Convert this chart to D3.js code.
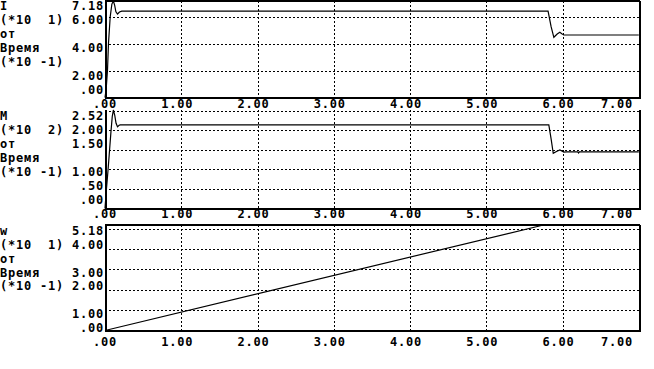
<!DOCTYPE html>
<html>
<head>
<meta charset="utf-8">
<script src="https://cdn.jsdelivr.net/npm/d3@7"></script>
<style>
  body { margin: 0; background: #fff; }
  svg { display: block; }
  text {
    font-family: "DejaVu Sans Mono", monospace;
    font-weight: bold;
    font-size: 12px;
    letter-spacing: 0.78px;
    white-space: pre;
    fill: #000;
  }
</style>
</head>
<body>
<svg width="654" height="369"></svg>
<script>
// Time axis (shared by all three plots)
const xTicks = [0, 1, 2, 3, 4, 5, 6, 7];
const xTickLabels = [".00", "1.00", "2.00", "3.00", "4.00", "5.00", "6.00", "7.00"];
const xGrid = [1, 2, 3, 4, 5, 6];

// I (current)
const tI = [0, 0.01, 0.02, 0.033, 0.046, 0.068, 0.09, 0.11, 0.127, 0.143, 0.164, 0.19, 0.22,
            5.81, 5.85, 5.886, 5.93, 5.965, 5.99, 6.017, 7.0];
const vI = [0, 0.4, 1.0, 2.06, 4.06, 5.99, 6.95, 7.18, 6.85, 6.38, 6.21, 6.36, 6.42,
            6.42, 5.27, 4.48, 4.72, 4.85, 4.75, 4.65, 4.65];
const yTicksI = [7.18, 6, 4, 2, 0];
const yTickLabelsI = ["7.18", "6.00", "4.00", "2.00", ".00"];
const yGridI = [2, 4, 6];

// M (torque)
const tM = [0, 0.016, 0.038, 0.055, 0.078, 0.095, 0.11, 0.128, 0.145, 0.164, 0.185, 0.2,
            5.82, 5.85, 5.878, 5.92, 5.965, 5.99, 6.017, 6.05, 6.2, 6.21, 6.22, 7.0];
const vM = [0, 0.43, 0.94, 1.37, 1.96, 2.35, 2.52, 2.38, 2.18, 2.09, 2.13, 2.14,
            2.14, 1.78, 1.41, 1.46, 1.50, 1.47, 1.44, 1.45, 1.45, 1.42, 1.45, 1.45];
const yTicksM = [2.52, 2, 1.5, 1, 0.5, 0];
const yTickLabelsM = ["2.52", "2.00", "1.50", "1.00", ".50", ".00"];
const yGridM = [0.5, 1, 1.5, 2, 2.5];

// w (speed)
const tW = [0, 5.75, 7.0];
const vW = [0, 5.18, 5.18];
const yTicksW = [5.18, 4, 3, 2, 1, 0];
const yTickLabelsW = ["5.18", "4.00", "3.00", "2.00", "1.00", ".00"];
const yGridW = [1, 2, 3, 4, 5];

const names = ["I", "M", "w"];
const exps = ["1", "2", "1"];
const yMax = [7.18, 2.52, 5.18];

const svg = d3.select("svg");

// layout
const X0 = 105, X1 = 638.8;
const textTop = [0, 110, 224.5];   // text row origin per plot
const plotTop = [1, 110, 225];
const plotBot = [97.5, 208.5, 330.5];
const topLine = [true, false, true]; // plot 2 shows only its dotted top grid
const ROW = 13.9;

const x = d3.scaleLinear().domain([0, 7]).range([X0, X1]);

const series = [
  { t: tI, v: vI, ticks: yTicksI, labels: yTickLabelsI, grid: yGridI },
  { t: tM, v: vM, ticks: yTicksM, labels: yTickLabelsM, grid: yGridM },
  { t: tW, v: vW, ticks: yTicksW, labels: yTickLabelsW, grid: yGridW }
];

function pad(s) { return s.length < 2 ? " " + s : s; }

series.forEach((s, i) => {
  const g = svg.append("g");
  const top = plotTop[i], bot = plotBot[i];
  const y = d3.scaleLinear().domain([0, yMax[i]]).range([bot, top]);
  const rowY = k => textTop[i] + 6 + ROW * k;
  const maxRow = Math.floor((bot - 2 - textTop[i] - 6) / ROW);

  // dotted grid
  g.selectAll(".hg").data(s.grid).join("line")
    .attr("x1", X0).attr("x2", X1)
    .attr("y1", d => Math.round(y(d)) + 0.5).attr("y2", d => Math.round(y(d)) + 0.5)
    .attr("stroke", "#000").attr("stroke-dasharray", "2,2")
    .attr("shape-rendering", "crispEdges");
  g.selectAll(".vg").data(xGrid).join("line")
    .attr("x1", d => Math.round(x(d)) + 0.5).attr("x2", d => Math.round(x(d)) + 0.5)
    .attr("y1", top).attr("y2", bot)
    .attr("stroke", "#000").attr("stroke-dasharray", "2,2")
    .attr("shape-rendering", "crispEdges");

  // frame: left, bottom, right (+ top where drawn)
  const frame = d3.path();
  frame.moveTo(X1 + 1, top);
  frame.lineTo(X1 + 1, bot);
  frame.lineTo(X0 + 1, bot);
  frame.lineTo(X0 + 1, top);
  if (topLine[i]) frame.lineTo(X1 + 1, top);
  g.append("path")
    .attr("d", frame.toString())
    .attr("fill", "none").attr("stroke", "#000").attr("stroke-width", 2)
    .attr("shape-rendering", "crispEdges");

  // curve
  const line = d3.line().x((d, j) => x(s.t[j])).y(d => y(d));
  g.append("path")
    .attr("d", line(s.v))
    .attr("fill", "none").attr("stroke", "#000").attr("stroke-width", 1.2);

  // left title
  const title = [names[i], "(*10 " + pad(exps[i]) + ")", "от", "Время", "(*10 -1)"];
  g.selectAll(".tt").data(title).join("text")
    .attr("x", 0).attr("y", (d, k) => rowY(k)).attr("dy", "0.36em")
    .text(d => d);

  // y tick labels snapped to text rows
  g.selectAll(".yl").data(s.ticks).join("text")
    .attr("x", 104).attr("text-anchor", "end")
    .attr("y", d => {
      let k = Math.max(0, Math.round((y(d) - textTop[i] - 6) / ROW));
      return rowY(Math.min(k, maxRow));
    })
    .attr("dy", "0.36em")
    .text((d, k) => s.labels[k]);

  // x tick labels on first row below the axis
  const xRow = Math.ceil((bot + 4 - textTop[i] - 6) / ROW);
  g.selectAll(".xl").data(xTicks).join("text")
    .attr("x", d => Math.min(x(d) + 12, 633)).attr("text-anchor", "end")
    .attr("y", rowY(xRow)).attr("dy", "0.36em")
    .text((d, k) => xTickLabels[k]);
});
</script>
</body>
</html>
